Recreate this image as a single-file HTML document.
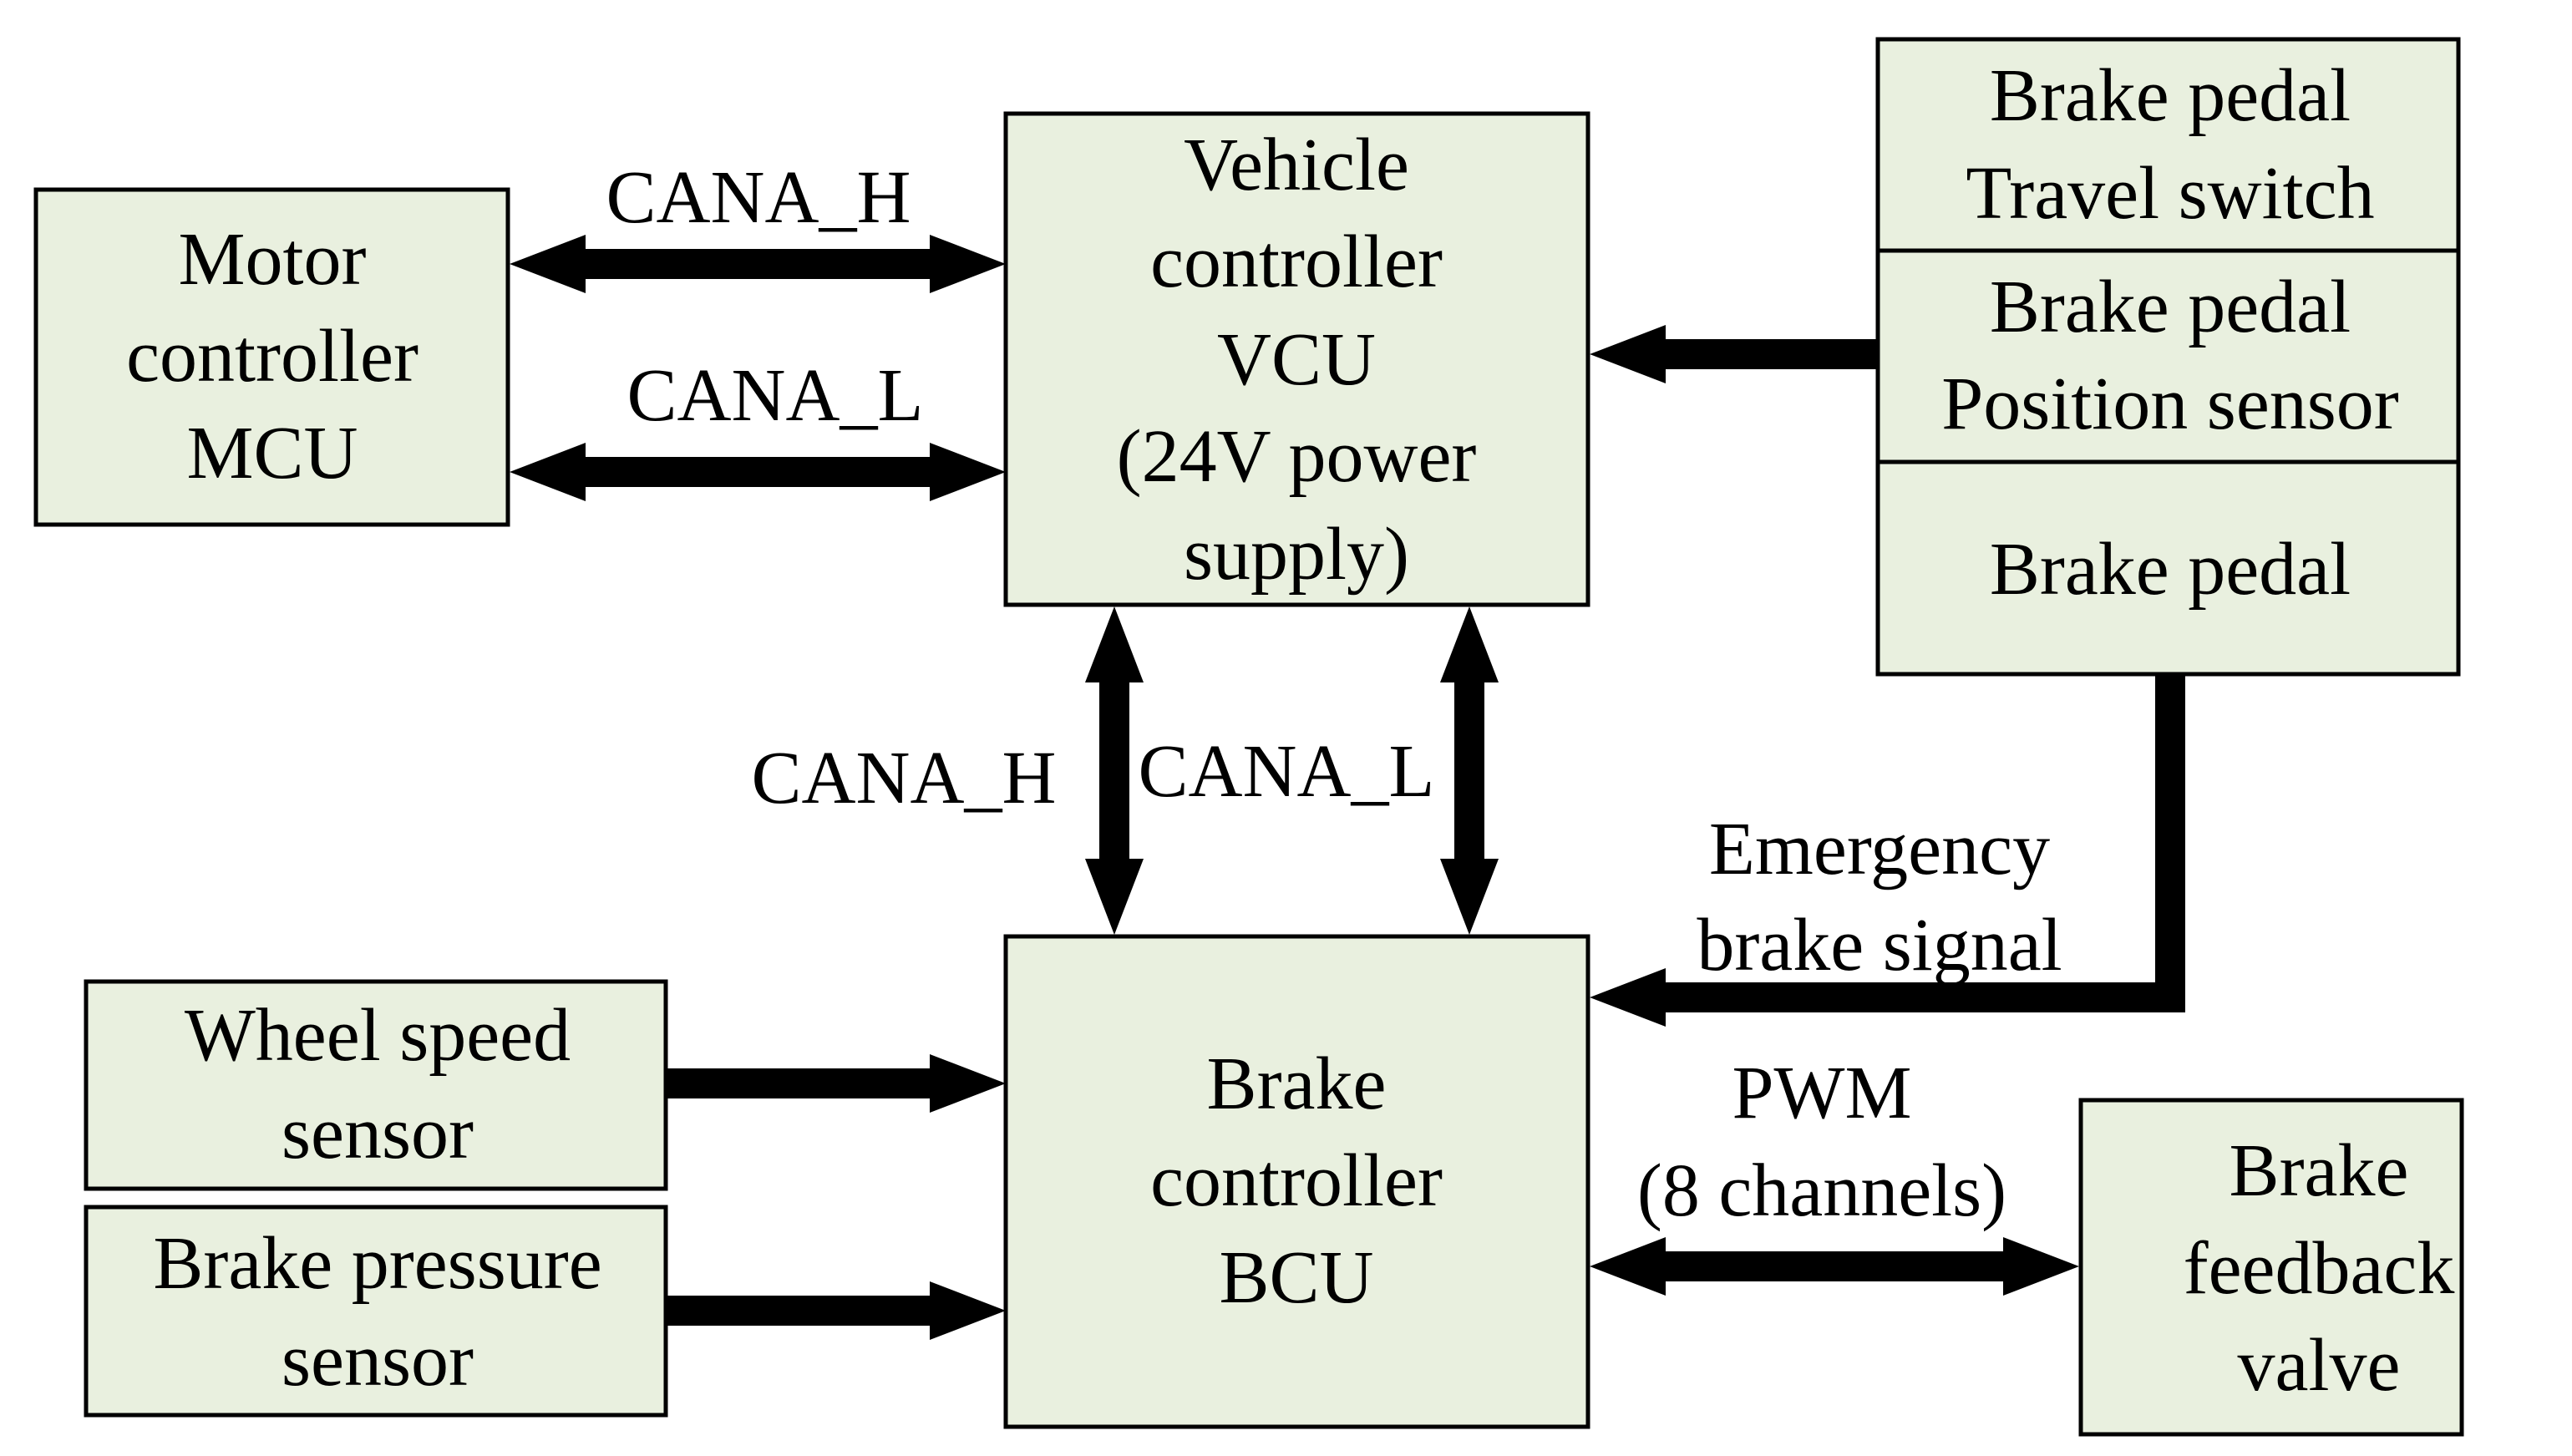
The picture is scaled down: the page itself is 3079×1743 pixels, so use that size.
<!DOCTYPE html>
<html><head><meta charset="utf-8"><style>html,body{margin:0;padding:0;background:#fff}svg{display:block}</style></head><body>
<svg width="3079" height="1743" viewBox="0 0 3079 1743" xmlns="http://www.w3.org/2000/svg" font-family="'Liberation Serif', serif" font-size="90" text-anchor="middle">
<g fill="#e9f0df" stroke="#000" stroke-width="5">
<rect x="43" y="227" width="565" height="401"/>
<rect x="1204" y="136" width="697" height="588"/>
<rect x="2248" y="47" width="695" height="760"/>
<line x1="2248" y1="300" x2="2943" y2="300"/>
<line x1="2248" y1="553" x2="2943" y2="553"/>
<rect x="103" y="1175" width="694" height="248"/>
<rect x="103" y="1445" width="694" height="249"/>
<rect x="1204" y="1121" width="697" height="587"/>
<rect x="2491" y="1317" width="456" height="400"/>
</g>
<g fill="#000">
<!-- CANA_H horizontal -->
<polygon points="610,316 701,281 701,298 1113,298 1113,281 1204,316 1113,351 1113,334 701,334 701,351"/>
<polygon points="610,565 701,530 701,547 1113,547 1113,530 1204,565 1113,600 1113,583 701,583 701,600"/>
<!-- vertical -->
<polygon points="1334,726 1369,817 1352,817 1352,1028 1369,1028 1334,1119 1299,1028 1316,1028 1316,817 1299,817"/>
<polygon points="1759,726 1794,817 1777,817 1777,1028 1794,1028 1759,1119 1724,1028 1741,1028 1741,817 1724,817"/>
<!-- stack to VCU -->
<polygon points="1903,424 1994,389 1994,406 2248,406 2248,442 1994,442 1994,459"/>
<!-- emergency -->
<polygon points="1903,1194 1994,1159 1994,1176 2580,1176 2580,807 2616,807 2616,1212 1994,1212 1994,1229"/>
<!-- wheel speed -->
<polygon points="799,1279 1113,1279 1113,1262 1204,1297 1113,1332 1113,1315 799,1315"/>
<polygon points="799,1551 1113,1551 1113,1534 1204,1569 1113,1604 1113,1587 799,1587"/>
<!-- PWM -->
<polygon points="1903,1516 1994,1481 1994,1498 2398,1498 2398,1481 2489,1516 2398,1551 2398,1534 1994,1534 1994,1551"/>
</g>
<g fill="#000">
<text x="908" y="266">CANA_H</text>
<text x="928" y="503">CANA_L</text>
<text x="1082" y="961">CANA_H</text>
<text x="1540" y="953">CANA_L</text>
<text x="2250" y="1046">Emergency</text>
<text x="2250" y="1161">brake signal</text>
<text x="2181" y="1338">PWM</text>
<text x="2181" y="1455">(8 channels)</text>
<text x="326" y="340">Motor</text>
<text x="326" y="456">controller</text>
<text x="326" y="572">MCU</text>
<text x="1552" y="227">Vehicle</text>
<text x="1552" y="343">controller</text>
<text x="1552" y="460">VCU</text>
<text x="1552" y="576">(24V power</text>
<text x="1552" y="693">supply)</text>
<text x="2598" y="144">Brake pedal</text>
<text x="2598" y="261">Travel switch</text>
<text x="2598" y="397">Brake pedal</text>
<text x="2598" y="513">Position sensor</text>
<text x="2598" y="711">Brake pedal</text>
<text x="452" y="1269">Wheel speed</text>
<text x="452" y="1386">sensor</text>
<text x="452" y="1542">Brake pressure</text>
<text x="452" y="1658">sensor</text>
<text x="1552" y="1327">Brake</text>
<text x="1552" y="1443">controller</text>
<text x="1552" y="1559">BCU</text>
<text x="2776" y="1431">Brake</text>
<text x="2776" y="1548">feedback</text>
<text x="2776" y="1664">valve</text>
</g>
</svg>
</body></html>
